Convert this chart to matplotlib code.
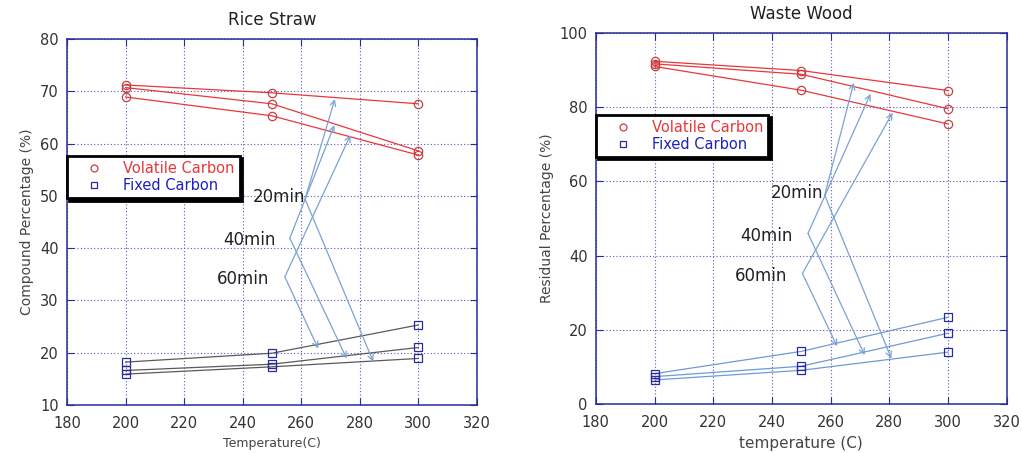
import matplotlib.pyplot as plt
from matplotlib.lines import Line2D

# data
temps = [200, 250, 300]
times = ['20min', '40min', '60min']

rice_volatile = [[71.2, 69.7, 67.6], [70.7, 67.6, 58.6], [68.9, 65.3, 57.8]]
rice_fixed = [[15.9, 17.3, 18.9], [16.6, 17.8, 21.0], [18.2, 19.9, 25.3]]

wood_volatile = [[92.4, 89.9, 84.5], [91.7, 88.9, 79.6], [91.0, 84.6, 75.5]]
wood_fixed = [[6.5, 9.1, 14.0], [7.4, 10.2, 19.1], [8.2, 14.2, 23.4]]

# annotation layout (data coords): text pos, arrow origin, tip on volatile, tip on fixed
rice_notes = [
    ((243.5, 49.7), (261.3, 49.4), (271.5, 68.5), (284.6, 18.3)),
    ((233.3, 41.6), (256.1, 41.9), (271.3, 63.5), (275.5, 18.9)),
    ((231.2, 34.1), (254.4, 34.5), (276.8, 61.6), (265.8, 20.8)),
]
wood_notes = [
    ((239.5, 57.0), (258.0, 56.3), (267.9, 86.6), (280.7, 12.3)),
    ((229.3, 45.3), (252.3, 46.0), (273.6, 83.6), (271.6, 13.2)),
    ((227.3, 34.6), (250.4, 35.2), (281.1, 78.5), (262.2, 15.6)),
]

RED = '#e8383a'
MRED = '#c84040'
NAVY = '#2a2a9a'
ARROW = '#7aa2d2'


def draw_panel(ax, title, volatile, fixed, fixcolor, notes, ylim, yticks, xlabel, ylabel,
               xlabsize, legend_anchor):
    for v in volatile:
        ax.plot(temps, v, color=RED, lw=0.9, zorder=3)
        ax.plot(temps, v, ls='none', marker='o', ms=6, mfc='none', mec=MRED, mew=0.9, zorder=4)
    for f in fixed:
        ax.plot(temps, f, color=fixcolor, lw=0.9, zorder=3)
        ax.plot(temps, f, ls='none', marker='s', ms=6, mfc='none', mec=NAVY, mew=0.9, zorder=4)

    for label, (txt, org, up, down) in zip(times, notes):
        ax.text(txt[0], txt[1], label, fontsize=12, ha='left', va='center', color='#222222', zorder=5)
        for tip in (up, down):
            ax.annotate('', xy=tip, xytext=org,
                        arrowprops=dict(arrowstyle='->', color=ARROW, lw=0.9,
                                        shrinkA=0, shrinkB=0, mutation_scale=10), zorder=5)

    ax.set_xlim(180, 320)
    ax.set_xticks(range(180, 321, 20))
    ax.set_ylim(*ylim)
    ax.set_yticks(yticks)
    ax.grid(True, color='#5a5ab4', ls=(0, (1, 2)), lw=0.8)
    for s in ax.spines.values():
        s.set_color(NAVY)
        s.set_linewidth(1.1)
    ax.tick_params(direction='in', length=5, color=NAVY, top=True, right=True,
                   labelsize=10.5, labelcolor='#333333')
    ax.tick_params(axis='x', pad=8)
    ax.tick_params(axis='y', pad=6)
    ax.set_title(title, fontsize=12, color='#222222', pad=10)
    ax.set_xlabel(xlabel, fontsize=xlabsize, color='#444444', labelpad=4)
    ax.set_ylabel(ylabel, fontsize=10, color='#444444')

    handles = [Line2D([], [], ls='none', marker='o', ms=5, mfc='none', mec=MRED, mew=0.9),
               Line2D([], [], ls='none', marker='s', ms=5, mfc='none', mec=NAVY, mew=0.9)]
    leg = ax.legend(handles, ['Volatile Carbon', 'Fixed Carbon'], loc='upper left',
                    bbox_to_anchor=legend_anchor, fontsize=10.5, frameon=True, fancybox=False,
                    shadow={'color': 'black', 'alpha': 1.0, 'ox': 1.5, 'oy': -1.5},
                    edgecolor='black',
                    borderpad=0.35, labelspacing=0.15, handlelength=3.0, handletextpad=0.5,
                    borderaxespad=0)
    leg.get_frame().set_linewidth(2)
    leg.set_zorder(6)
    leg.get_texts()[0].set_color(RED)
    leg.get_texts()[1].set_color('#2020c0')


fig = plt.figure(figsize=(10.22, 4.53), dpi=100)
ax1 = fig.add_axes([0.0656, 0.106, 0.401, 0.808])
ax2 = fig.add_axes([0.583, 0.108, 0.402, 0.819])

draw_panel(ax1, 'Rice Straw', rice_volatile, rice_fixed, '#5a5a5a', rice_notes,
           (10, 80), range(10, 81, 10), 'Temperature(C)', 'Compound Percentage (%)', 9,
           (0.0, 0.68))
draw_panel(ax2, 'Waste Wood', wood_volatile, wood_fixed, '#6f9bd6', wood_notes,
           (0, 100), range(0, 101, 20), 'temperature (C)', 'Residual Percentage (%)', 11,
           (0.0, 0.78))

fig.savefig('out.png', dpi=100)
